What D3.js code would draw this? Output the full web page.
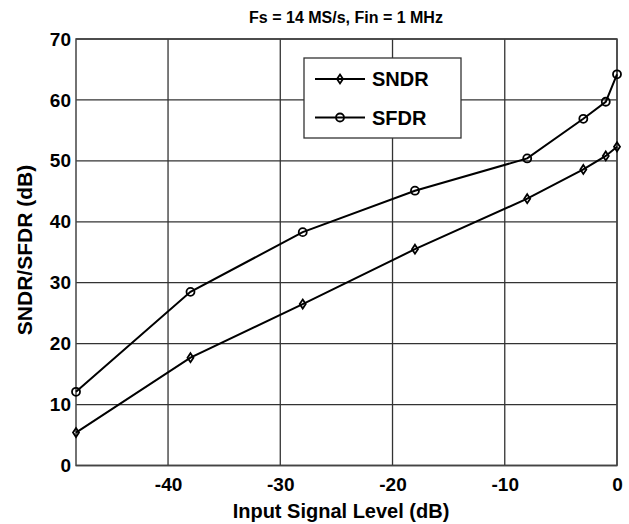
<!DOCTYPE html>
<html lang="en">
<head>
<meta charset="UTF-8">
<title>SNDR/SFDR vs input level</title>
<script src="https://d3js.org/d3.v7.min.js"></script>
<style>
  body { margin: 0; background: #fff; }
  text { font-family: "Liberation Sans", Arial, sans-serif; font-weight: bold; fill: #000; }
</style>
</head>
<body>
<svg width="629" height="524"></svg>
<script>
// input levels (dB) and measured values
const inputLevel = [-48.2, -38, -28, -18, -8, -3, -1, 0];
const sndr = [5.4, 17.7, 26.5, 35.5, 43.8, 48.6, 50.8, 52.3];
const sfdr = [12.1, 28.5, 38.3, 45.1, 50.4, 56.9, 59.7, 64.2];
const xTicks = [-40, -30, -20, -10, 0];
const yTicks = [0, 10, 20, 30, 40, 50, 60, 70];
const seriesNames = ["SNDR", "SFDR"];

const margin = { top: 39, right: 12, bottom: 58.5, left: 76 };
const width = 629, height = 524;

const svg = d3.select("svg");

const x = d3.scaleLinear()
    .domain([-48.2, 0])
    .range([margin.left, width - margin.right]);

const y = d3.scaleLinear()
    .domain([0, 70])
    .range([height - margin.bottom, margin.top]);

// grid
svg.append("g")
    .selectAll("line")
    .data(xTicks)
    .join("line")
    .attr("x1", d => x(d)).attr("x2", d => x(d))
    .attr("y1", y(0)).attr("y2", y(70))
    .attr("stroke", "#333").attr("stroke-width", 1.3);

svg.append("g")
    .selectAll("line")
    .data(yTicks)
    .join("line")
    .attr("x1", x(-48.2)).attr("x2", x(0))
    .attr("y1", d => y(d)).attr("y2", d => y(d))
    .attr("stroke", "#333").attr("stroke-width", 1.3);

// frame
svg.append("rect")
    .attr("x", x(-48.2)).attr("y", y(70))
    .attr("width", x(0) - x(-48.2)).attr("height", y(0) - y(70))
    .attr("fill", "none").attr("stroke", "#444").attr("stroke-width", 1.5);

// axes
const xAxis = svg.append("g")
    .attr("transform", `translate(0,${y(0)})`)
    .call(d3.axisBottom(x).tickValues(xTicks).tickSize(0).tickPadding(12).tickFormat(d => String(d)));
xAxis.select(".domain").remove();
xAxis.selectAll("text").style("font-size", "19px").attr("dy", "0.71em");

const yAxis = svg.append("g")
    .attr("transform", `translate(${x(-48.2)},0)`)
    .call(d3.axisLeft(y).tickValues(yTicks).tickSize(0).tickPadding(5));
yAxis.select(".domain").remove();
yAxis.selectAll("text").style("font-size", "19px");

// series
const series = [
    { name: seriesNames[0], values: sndr, marker: "diamond" },
    { name: seriesNames[1], values: sfdr, marker: "circle" }
];

const line = d3.line()
    .x(d => x(d[0]))
    .y(d => y(d[1]));

const diamond = "M0,-4.5L3,0L0,4.5L-3,0Z";

function drawMarker(g, type, cx, cy) {
    if (type === "circle") {
        g.append("circle")
            .attr("cx", cx).attr("cy", cy).attr("r", 4)
            .attr("fill", "none").attr("stroke", "#000").attr("stroke-width", 1.8);
    } else {
        g.append("path")
            .attr("d", diamond)
            .attr("transform", `translate(${cx},${cy})`)
            .attr("fill", "none").attr("stroke", "#000").attr("stroke-width", 1.8);
    }
}

series.forEach(s => {
    const pts = inputLevel.map((v, i) => [v, s.values[i]]);
    svg.append("path")
        .datum(pts)
        .attr("d", line)
        .attr("fill", "none")
        .attr("stroke", "#000")
        .attr("stroke-width", 2);
    const g = svg.append("g");
    pts.forEach(p => drawMarker(g, s.marker, x(p[0]), y(p[1])));
});

// legend
const legend = svg.append("g").attr("transform", "translate(304,58)");
legend.append("rect")
    .attr("width", 157).attr("height", 80)
    .attr("fill", "#fff").attr("stroke", "#333").attr("stroke-width", 1.3);

series.forEach((s, i) => {
    const ly = 21 + i * 38.5;
    legend.append("line")
        .attr("x1", 11).attr("x2", 61)
        .attr("y1", ly).attr("y2", ly)
        .attr("stroke", "#000").attr("stroke-width", 2);
    drawMarker(legend, s.marker, 36, ly);
    legend.append("text")
        .attr("x", 68).attr("y", ly)
        .attr("dy", "0.36em")
        .style("font-size", "20px")
        .text(s.name);
});

// title and axis labels
svg.append("text")
    .attr("x", 346).attr("y", 23)
    .attr("text-anchor", "middle")
    .style("font-size", "16px")
    .text("Fs = 14 MS/s, Fin = 1 MHz");

svg.append("text")
    .attr("x", 341).attr("y", 518)
    .attr("text-anchor", "middle")
    .style("font-size", "20px")
    .text("Input Signal Level (dB)");

svg.append("text")
    .attr("transform", "rotate(-90)")
    .attr("x", -250).attr("y", 32)
    .attr("text-anchor", "middle")
    .style("font-size", "21px")
    .text("SNDR/SFDR (dB)");
</script>
</body>
</html>
